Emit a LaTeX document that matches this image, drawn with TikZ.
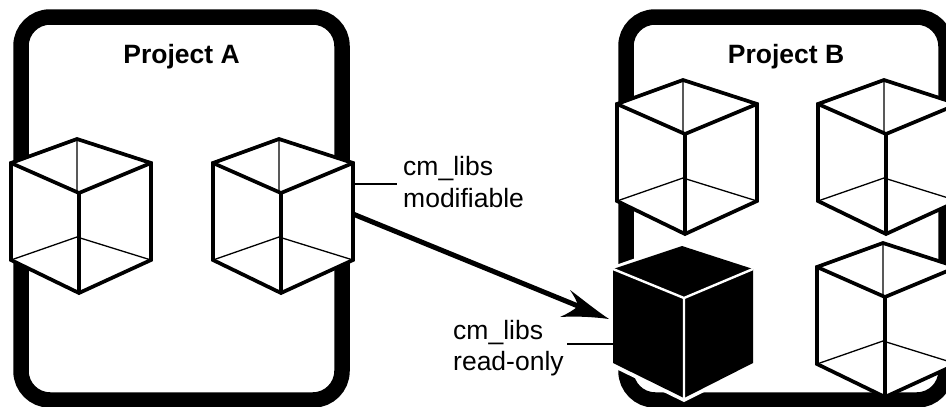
\documentclass[tikz,border=0pt]{standalone}
\usepackage{fontspec}
\setmainfont{Liberation Sans}
\tikzset{
  x=1pt,y=-1pt,
  frame/.style={draw=black,line width=15.5pt,rounded corners=29pt},
  thickedge/.style={line width=3.7pt,line join=miter,line cap=round},
  thinedge/.style={line width=1.3pt},
  lbl/.style={font=\fontsize{26.5}{30}\selectfont,inner sep=0pt,anchor=base west,text=black},
  title/.style={font=\fontsize{26.5}{30}\selectfont\bfseries,inner sep=0pt,anchor=base,text=black},
}
% #1 = apex x, #2 = apex y
\newcommand{\wirecube}[2]{%
  \begin{scope}[shift={(#1,#2)}]
    \fill[white] (-66,24)--(0,0)--(74,24)--(74,121)--(2,154)--(-66,121)--cycle;
    \draw[thinedge] (0,0)--(0,54) (-66,121)--(0,98)--(74,121);
    \draw[thickedge] (-66,24)--(0,0)--(74,24)--(74,121)--(2,154)--(-66,121)--cycle;
    \draw[thickedge] (-66,24)--(2,54)--(74,24) (2,54)--(2,154);
  \end{scope}}
\begin{document}
\begin{tikzpicture}
\useasboundingbox (0,0) rectangle (946,407);
\begin{scope}
\clip (0,0) rectangle (946,407);
\draw[frame] (21,17) rectangle (342,400);
\draw[frame] (626,17) rectangle (946,400);
\wirecube{77}{139}
\wirecube{279}{139}
\wirecube{683}{80}
\wirecube{884}{80}
\wirecube{883}{243}
\begin{scope}[shift={(682,246)}]
  \fill[white] (-72,21)--(0,-4)--(74,21)--(74,120)--(2,156)--(-72,120)--cycle;
  \fill[black] (-69,23)--(0,0)--(71,23)--(71,117)--(2,152)--(-69,117)--cycle;
  \draw[white,line width=2.4pt] (-69,23)--(2,52)--(71,23) (2,52)--(2,152);
\end{scope}
\end{scope}
\coordinate (a1) at (353,184);
\coordinate (a2) at (397,184);
\coordinate (b1) at (567,344);
\coordinate (b2) at (613,344);
\draw[line width=1.7pt] (a1)--(a2);
\draw[line width=1.7pt] (b1)--(b2);
\coordinate (s) at (353,214);
\coordinate (n) at (578,306);
\coordinate (e) at (609,319);
\draw[line width=5pt] (s)--(n);
\fill[black] (e) .. controls (594,309) and (581,298) .. (570,290)
  .. controls (574,296) and (577,301) .. (578,306)
  .. controls (574,310) and (567,314) .. (560,317)
  .. controls (577,316) and (594,317) .. (e) -- cycle;
\node[title] (pa) at (181.5,63) {Project A};
\node[title] (pb) at (786,63) {Project B};
\node[lbl] (t1) at (403,175) {cm\_libs};
\node[lbl] (t2) at (403,207) {modifiable};
\node[lbl] (t3) at (453,339) {cm\_libs};
\node[lbl] (t4) at (453,370) {read-only};
\end{tikzpicture}
\end{document}
